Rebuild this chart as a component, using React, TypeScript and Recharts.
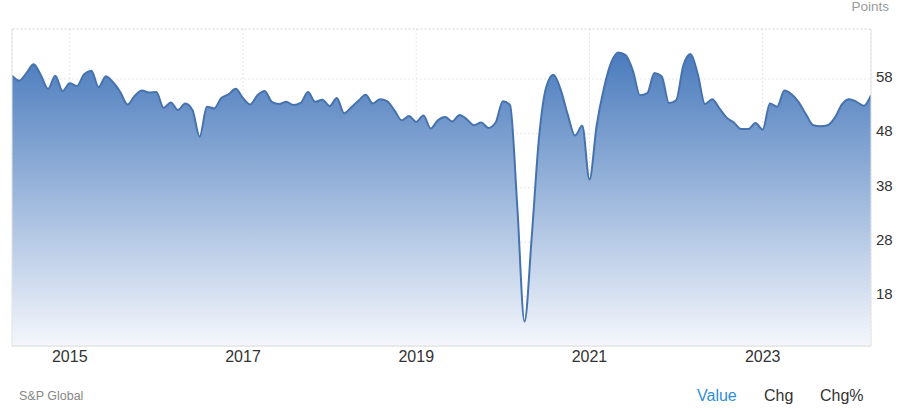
import { Area, AreaChart, CartesianGrid, ReferenceLine, XAxis, YAxis } from "recharts";

// monthly readings, May 2014 .. Apr 2024
const START_YEAR = 2014;
const START_MONTH = 5;

const values = [
  // 2014 (May-Dec)
  58.6, 57.7, 59.1, 60.7, 58.7, 56.2, 58.6, 55.8,
  // 2015
  57.2, 56.7, 58.9, 59.5, 56.5, 58.5, 57.4, 55.6, 53.3, 54.9, 55.9, 55.5,
  // 2016
  55.6, 52.7, 53.7, 52.3, 53.5, 52.3, 47.4, 52.9, 52.6, 54.5, 55.2, 56.2,
  // 2017
  54.5, 53.3, 55.0, 55.8, 53.8, 53.4, 53.8, 53.2, 53.6, 55.6, 53.8, 54.2,
  // 2018
  53.0, 54.5, 51.7, 52.8, 54.0, 55.1, 53.5, 54.3, 53.9, 52.2, 50.4, 51.2,
  // 2019
  50.1, 51.3, 48.9, 50.4, 51.0, 50.2, 51.4, 50.6, 49.5, 50.0, 49.0, 50.0,
  // 2020
  53.9, 53.2, 34.5, 13.4, 29.0, 47.1, 56.5, 58.8, 56.1, 51.4, 47.6, 49.4,
  // 2021
  39.5, 49.5, 56.3, 61.0, 62.9, 62.4, 59.6, 55.0, 55.4, 59.1, 58.5, 53.6,
  // 2022
  54.1, 60.5, 62.6, 58.9, 53.4, 54.3, 52.6, 50.9, 50.0, 48.8, 48.8, 49.9,
  // 2023
  48.7, 53.5, 52.9, 55.9, 55.2, 53.7, 51.5, 49.5, 49.3, 49.5, 50.9, 53.4,
  // 2024 (Jan-Apr)
  54.3, 53.8, 53.1, 55.0,
];

const yearTicks = [2015, 2017, 2019, 2021, 2023];
const valueTicks = [18, 28, 38, 48, 58];
const Y_DOMAIN: [number, number] = [8.9, 67.2];

const data = values.map((v, i) => ({
  t: START_YEAR + (START_MONTH - 1 + i) / 12,
  value: v,
}));
const X_DOMAIN: [number, number] = [data[0].t, data[data.length - 1].t];

const FONT = '"Liberation Sans", Arial, Helvetica, sans-serif';
const GRID = "#e4e4e4";

function ValueTick(props: any) {
  const { x, y, payload } = props;
  return (
    <text x={x} y={y - 2.5} dy="0.355em" textAnchor="start" fontSize={15} fill="#333" fontFamily={FONT}>
      {payload.value}
    </text>
  );
}

export default function App() {
  return (
    <div
      style={{
        position: "absolute",
        left: 0,
        top: 0,
        width: 900,
        height: 411,
        background: "#fff",
        fontFamily: FONT,
        overflow: "hidden",
      }}
    >
      <div
        style={{ position: "absolute", right: 11, top: 0, fontSize: 13.5, lineHeight: "14px", color: "#999" }}
      >
        Points
      </div>

      <div style={{ position: "absolute", left: 0, top: 0 }}>
        <AreaChart width={900} height={370} data={data} margin={{ top: 29, right: 0, bottom: 0, left: 12 }}>
          <defs>
            <linearGradient id="fillGrad" x1="0" y1="0" x2="0" y2="1">
              <stop offset="0%" stopColor="#4a7bbd" />
              <stop offset="100%" stopColor="#f4f7fc" />
            </linearGradient>
          </defs>
          <ReferenceLine x={X_DOMAIN[0]} stroke={GRID} />
          <ReferenceLine x={X_DOMAIN[1]} stroke={GRID} />
          <XAxis
            dataKey="t"
            type="number"
            domain={X_DOMAIN}
            ticks={yearTicks}
            tickFormatter={(v: number) => String(Math.round(v))}
            axisLine={false}
            tickLine={false}
            tickSize={0}
            tickMargin={5}
            height={24}
            tick={{ fontSize: 16, fill: "#333", fontFamily: FONT }}
            allowDataOverflow
          />
          <YAxis
            orientation="right"
            type="number"
            domain={Y_DOMAIN}
            ticks={valueTicks}
            axisLine={false}
            tickLine={false}
            tickSize={0}
            tickMargin={5}
            width={29}
            tick={<ValueTick />}
            allowDataOverflow
          />
          <Area
            type="monotone"
            dataKey="value"
            stroke="#4672ad"
            strokeWidth={2}
            fill="url(#fillGrad)"
            fillOpacity={1}
            dot={false}
            activeDot={false}
            isAnimationActive={false}
          />
          <CartesianGrid stroke="#b8b8b8" strokeOpacity={0.35} strokeDasharray="2 2" />
          <ReferenceLine y={Y_DOMAIN[1]} stroke="#b8b8b8" strokeOpacity={0.35} strokeDasharray="2 2" />
          <ReferenceLine y={Y_DOMAIN[0]} stroke="#dadada" />
        </AreaChart>
      </div>

      <div
        style={{ position: "absolute", left: 19, top: 389, fontSize: 12.5, lineHeight: "14px", color: "#888" }}
      >
        S&amp;P Global
      </div>
      <div style={{ position: "absolute", left: 697, top: 387, fontSize: 16, lineHeight: "18px", color: "#2f8fd4" }}>
        Value
      </div>
      <div style={{ position: "absolute", left: 764, top: 387, fontSize: 16, lineHeight: "18px", color: "#333" }}>
        Chg
      </div>
      <div style={{ position: "absolute", left: 820, top: 387, fontSize: 16, lineHeight: "18px", color: "#333" }}>
        Chg%
      </div>
    </div>
  );
}
